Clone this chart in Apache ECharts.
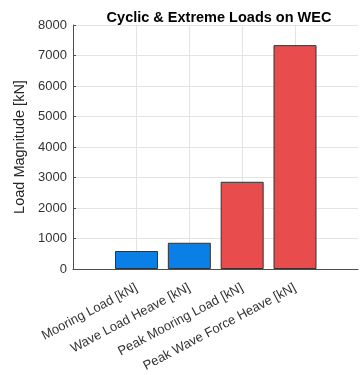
<!DOCTYPE html>
<html>
<head>
<meta charset="utf-8">
<script src="https://cdn.jsdelivr.net/npm/echarts@6/dist/echarts.min.js"></script>
</head>
<body style="margin:0;padding:0;background:#fff">
<div id="chart" style="width:362px;height:375px"></div>
<script>
// bar data
var categories = ['Mooring Load [kN]', 'Wave Load Heave [kN]', 'Peak Mooring Load [kN]', 'Peak Wave Force Heave [kN]'];
var loads = [590, 860, 2860, 7340];
var barColors = ['#0A7FE6', '#0A7FE6', '#E84C4C', '#E84C4C'];
var yTicks = { min: 0, max: 8000, interval: 1000 };

var chart = echarts.init(document.getElementById('chart'));
var font = 'Liberation Sans, Arial, sans-serif';

var option = {
  backgroundColor: '#fff',
  animation: false,
  title: {
    text: 'Cyclic & Extreme Loads on WEC',
    left: 214, top: 5, textAlign: 'center',
    textStyle: { fontFamily: font, fontSize: 14.5, fontWeight: 'bold', color: '#000' }
  },
  grid: [
    // frame: axes box, y ticks
    { left: 73, right: 4, top: 25, bottom: 106 },
    // bars: categories sit on the grid edges
    { left: 136.5, right: 67, top: 25, bottom: 106 }
  ],
  xAxis: [
    {
      gridIndex: 0, type: 'value', min: 0, max: 1,
      axisLine: { show: true, onZero: false, lineStyle: { color: '#4d4d4d', width: 1 } },
      axisTick: { show: false }, axisLabel: { show: false }, splitLine: { show: false }
    },
    {
      gridIndex: 1, type: 'category', data: categories, boundaryGap: false,
      axisLine: { show: false },
      axisTick: { show: true, inside: true, length: 3, lineStyle: { color: '#4d4d4d' } },
      splitLine: { show: true, lineStyle: { color: '#e3e3e3', width: 1 } },
      axisLabel: {
        rotate: 28, interval: 0, margin: 18,
        fontFamily: font, fontSize: 13, color: '#333'
      }
    }
  ],
  yAxis: [
    {
      gridIndex: 0, type: 'value', min: yTicks.min, max: yTicks.max, interval: yTicks.interval,
      name: 'Load Magnitude [kN]', nameLocation: 'middle', nameGap: 43,
      nameTextStyle: { fontFamily: font, fontSize: 14.5, color: '#262626' },
      axisLine: { show: true, lineStyle: { color: '#4d4d4d', width: 1 } },
      axisTick: { show: true, inside: true, length: 3, lineStyle: { color: '#4d4d4d' } },
      axisLabel: {
        fontFamily: font, fontSize: 13, color: '#333', margin: 6,
        formatter: function (v) { return String(v); }
      },
      splitLine: { show: true, lineStyle: { color: '#e3e3e3', width: 1 } }
    },
    {
      gridIndex: 1, type: 'value', min: yTicks.min, max: yTicks.max,
      show: false, splitLine: { show: false }
    }
  ],
  series: [{
    type: 'bar',
    xAxisIndex: 1, yAxisIndex: 1,
    barWidth: 43,
    clip: false,
    data: loads.map(function (v, i) {
      return { value: v, itemStyle: { color: barColors[i] } };
    }),
    itemStyle: { borderColor: '#333', borderWidth: 1 }
  }]
};
chart.setOption(option);
</script>
</body>
</html>
